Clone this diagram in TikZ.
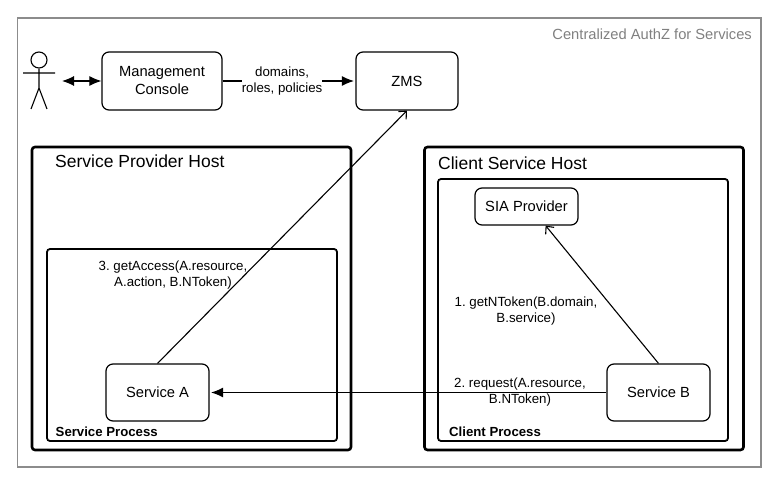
\documentclass[tikz,border=0pt]{standalone}
\usepackage{fontspec}
\setmainfont{Liberation Sans}
\frenchspacing
\usetikzlibrary{arrows.meta}
\tikzset{
  frame/.style={rectangle,draw,rounded corners=3pt,anchor=north west,inner sep=0pt,outer sep=0pt},
  host/.style={frame,line width=2.6pt,minimum width=319pt,minimum height=303pt},
  proc/.style={frame,line width=1.8pt,minimum width=290pt},
  comp/.style={rectangle,draw,rounded corners=7pt,line width=1.2pt,align=center,font=\fontsize{14.7}{18}\selectfont},
  lbl/.style={align=center,inner sep=0pt,font=\fontsize{13.3}{16}\selectfont},
  hlbl/.style={anchor=west,inner sep=0pt,font=\fontsize{17.5}{20}\selectfont},
  plbl/.style={anchor=west,inner sep=0pt,font=\bfseries\fontsize{13.2}{16}\selectfont},
  conn/.style={line width=1.1pt,-{Latex[length=12pt,width=10pt]},shorten >=1.5pt},
  call/.style={line width=1.1pt,-{Straight Barb[length=6pt,width=11pt]}},
}
\begin{document}
\begin{tikzpicture}[x=1pt,y=-1pt]
  \useasboundingbox (0,0) rectangle (777,484);
  \node[frame,rounded corners=0pt,draw=black!45,line width=1.2pt,minimum width=743.5pt,minimum height=449pt] (outer) at (17.5,18) {};
  \node[anchor=east,inner sep=0pt,text=black!50,font=\fontsize{14.7}{16}\selectfont] (title) at (752,34) {Centralized AuthZ for Services};

  % hosts
  \node[host] (sph) at (32,147) {};
  \node[host] (csh) at (424.5,147) {};
  \node[proc,minimum height=192pt] (sp) at (47,249) {};
  \node[proc,minimum height=262pt] (cp) at (438,179) {};
  \node[hlbl] (sphl) at (55,161.5) {Service Provider Host};
  \node[hlbl] (cshl) at (438,163) {Client Service Host};
  \node[plbl] (spl) at (55.5,431.5) {Service Process};
  \node[plbl] (cpl) at (449,431.5) {Client Process};

  % components
  \node[comp,minimum width=120pt,minimum height=58pt] (mc) at (162,81) {Management\\Console};
  \node[comp,minimum width=102pt,minimum height=58pt] (zms) at (407,81) {ZMS};
  \node[comp,minimum width=103pt,minimum height=57pt] (sa) at (157.5,392.5) {Service A};
  \node[comp,minimum width=103pt,minimum height=57pt] (sb) at (658.5,392.5) {Service B};
  \node[comp,minimum width=103pt,minimum height=37pt] (sia) at (526.5,206.5) {SIA Provider};

  % actor
  \node[circle,draw,line width=1.1pt,minimum size=16pt,inner sep=0pt] (head) at (39,60) {};
  \coordinate (hip) at (39,88);
  \draw[line width=1.1pt] (head) -- (hip) -- (31,109) (hip) -- (47,109) (23,73) -- (55,73);
  \coordinate (actor) at (62,81);

  % connectors
  \draw[line width=1.1pt,{Latex[length=12pt,width=10pt]}-{Latex[length=12pt,width=10pt]}] (actor) -- (mc.west);
  \draw[conn] (mc) -- node[lbl,pos=0.448,fill=white,inner ysep=1pt] (pol) {domains,\\roles, policies} (zms);
  \draw[conn] (sb) -- (sa);
  \draw[call] (sb.north) -- (sia.-45);
  \draw[call] (sa.north) -- (zms.south);

  % labels
  \node[lbl] (get) at (526,311) {1. getNToken(B.domain,\\B.service)};
  \node[lbl] (req) at (520,392) {2. request(A.resource,\\B.NToken)};
  \node[lbl] (acc) at (173,275) {3. getAccess(A.resource,\\A.action, B.NToken)};
\end{tikzpicture}
\end{document}
